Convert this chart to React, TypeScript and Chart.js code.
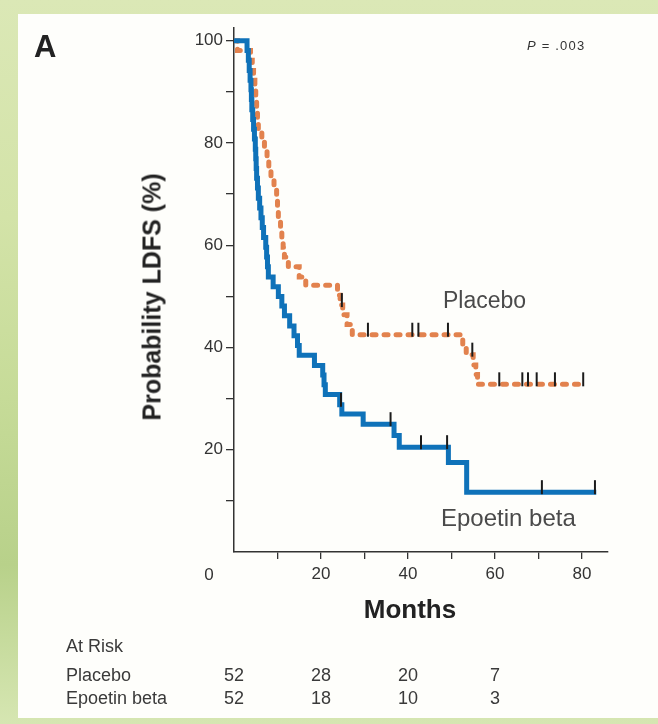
import React, { useEffect, useRef, useState } from "react";
import { Chart, registerables } from "chart.js";

Chart.register(...registerables);

// ---------------- data ----------------
const epoetinMonths = [
  0, 3.0, 3.3, 3.5, 3.7, 3.9, 4.0, 4.1, 4.3, 4.5, 4.7, 4.9, 5.0, 5.1, 5.2, 5.4, 5.6, 5.9, 6.2, 6.5,
  6.8, 7.3, 7.5, 7.7, 7.9, 9.0, 10.2, 11.0, 11.6, 12.8, 13.8, 14.6, 15.0, 18.5, 20.4, 20.7, 21.0,
  24.3, 24.8, 29.7, 36.8, 38.0, 49.3, 53.5, 83.3,
];
const epoetinLDFS = [
  100, 98.1, 96.2, 94.2, 92.3, 90.4, 88.5, 86.5, 84.6, 82.7, 80.8, 78.8, 76.9, 75.0, 73.1, 71.2,
  69.2, 67.3, 65.4, 63.5, 61.5, 59.6, 57.7, 55.8, 53.8, 51.9, 50.0, 48.1, 46.2, 44.2, 42.3, 40.4,
  38.5, 36.5, 34.6, 32.7, 30.8, 28.8, 27.0, 25.0, 22.8, 20.5, 17.5, 11.7, 11.7,
];
const placeboMonths = [
  0, 0.8, 3.8, 4.2, 4.5, 4.8, 5.0, 5.2, 5.4, 5.6, 6.4, 7.0, 7.6, 8.0, 8.5, 9.2, 9.8, 10.0, 10.2,
  10.7, 11.0, 11.3, 11.6, 12.5, 15.0, 16.5, 23.8, 24.4, 25.0, 26.0, 27.2, 52.6, 53.4, 55.0, 55.6,
  56.0, 80.8,
];
const placeboLDFS = [
  100, 98.1, 96.2, 94.2, 92.3, 90.4, 88.5, 86.5, 84.6, 82.7, 80.8, 78.8, 76.9, 75.0, 73.1, 71.2,
  69.2, 67.3, 65.4, 63.5, 61.5, 59.6, 57.7, 55.8, 53.8, 52.2, 50.2, 48.3, 46.4, 44.5, 42.5, 40.6,
  38.6, 36.6, 34.7, 32.8, 32.8,
];
const epoetinCensored = [24.6, 36.0, 43.0, 49.0, 70.8, 83.0];
const placeboCensored = [24.8, 30.8, 41.0, 42.4, 49.2, 54.8, 61.0, 66.3, 67.6, 69.6, 73.8, 80.3];

const yTickValues = [10, 20, 30, 40, 50, 60, 70, 80, 90, 100];
const yTickLabels = [20, 40, 60, 80, 100];
const xTickValues = [10, 20, 30, 40, 50, 60, 70, 80];
const xTickLabels = [20, 40, 60, 80];

const atRiskMonths = [0, 20, 40, 60];
const atRiskPlacebo = [52, 28, 20, 7];
const atRiskEpoetin = [52, 18, 10, 3];

// ---------------- style ----------------
const FONT = '"Liberation Sans", Arial, Helvetica, sans-serif';
const BLUE = "#0f72b9";
const ORANGE = "#e2824e";
const AXIS = "#333333";
const W = 658;
const H = 724;

function survivalAt(months: number[], values: number[], t: number) {
  let v = values[0];
  for (let i = 0; i < months.length; i++) if (months[i] <= t) v = values[i];
  return v;
}

const censorPlugin = {
  id: "censorMarks",
  afterDatasetsDraw(chart: any) {
    const { ctx } = chart;
    const x = chart.scales.x;
    const y = chart.scales.y;
    ctx.save();
    ctx.strokeStyle = "#1b1b1b";
    ctx.lineWidth = 2;
    const draw = (times: number[], months: number[], values: number[]) =>
      times.forEach((t) => {
        const px = x.getPixelForValue(t);
        const py = y.getPixelForValue(survivalAt(months, values, t));
        ctx.beginPath();
        ctx.moveTo(px, py + 2);
        ctx.lineTo(px, py - 12);
        ctx.stroke();
      });
    draw(placeboCensored, placeboMonths, placeboLDFS);
    draw(epoetinCensored, epoetinMonths, epoetinLDFS);
    ctx.restore();
  },
};

function Txt(props: {
  x: number;
  y: number;
  children: React.ReactNode;
  center?: boolean;
  style?: React.CSSProperties;
}) {
  return (
    <div
      style={{
        position: "absolute",
        left: props.x,
        top: props.y,
        transform: props.center ? "translate(-50%,-50%)" : "translate(0,-50%)",
        whiteSpace: "nowrap",
        lineHeight: 1,
        fontFamily: FONT,
        color: "#333",
        ...props.style,
      }}
    >
      {props.children}
    </div>
  );
}

export default function App() {
  const canvasRef = useRef<HTMLCanvasElement>(null);
  const [riskX, setRiskX] = useState<number[]>([]);

  useEffect(() => {
    const canvas = canvasRef.current!;
    const chart = new Chart(canvas, {
      type: "line",
      data: {
        datasets: [
          {
            label: "Epoetin beta",
            data: epoetinMonths.map((m, i) => ({ x: m, y: epoetinLDFS[i] })),
            stepped: "before",
            borderColor: BLUE,
            borderWidth: 5,
            pointRadius: 0,
            fill: false,
            order: 0,
            borderJoinStyle: "miter",
            borderCapStyle: "butt",
          },
          {
            label: "Placebo",
            data: placeboMonths.map((m, i) => ({ x: m, y: placeboLDFS[i] })),
            stepped: "before",
            borderColor: ORANGE,
            borderWidth: 5,
            borderDash: [4, 8],
            borderCapStyle: "round",
            pointRadius: 0,
            fill: false,
            order: 1,
          },
        ],
      },
      options: {
        animation: false,
        responsive: false,
        maintainAspectRatio: false,
        layout: { padding: { left: 0, top: 28, right: 50, bottom: 0 } },
        plugins: { legend: { display: false }, tooltip: { enabled: false } },
        elements: { point: { radius: 0 } },
        scales: {
          x: {
            type: "linear",
            min: 0,
            max: 86,
            afterBuildTicks: (s: any) => {
              s.ticks = xTickValues.map((v) => ({ value: v }));
            },
            afterFit: (s: any) => {
              s.height = H - 552;
            },
            ticks: {
              autoSkip: false,
              maxRotation: 0,
              padding: 5,
              color: AXIS,
              font: { family: FONT, size: 17 },
              callback: (v: any) => (xTickLabels.includes(Number(v)) ? String(v) : ""),
            },
            grid: { drawOnChartArea: false, tickLength: 7, color: AXIS, lineWidth: 1.3 },
            border: { display: true, color: AXIS, width: 1.5 },
          },
          y: {
            type: "linear",
            min: 0,
            max: 102.5,
            afterBuildTicks: (s: any) => {
              s.ticks = yTickValues.map((v) => ({ value: v }));
            },
            afterFit: (s: any) => {
              s.width = 234;
            },
            ticks: {
              autoSkip: false,
              padding: 3,
              color: AXIS,
              font: { family: FONT, size: 17 },
              callback: (v: any) => (yTickLabels.includes(Number(v)) ? String(v) : ""),
            },
            grid: { drawOnChartArea: false, tickLength: 8, color: AXIS, lineWidth: 1.3 },
            border: { display: true, color: AXIS, width: 1.5 },
          },
        },
      },
      plugins: [censorPlugin],
    } as any);
    setRiskX(atRiskMonths.map((m) => chart.scales.x.getPixelForValue(m)));
    return () => chart.destroy();
  }, []);

  return (
    <div
      style={{
        position: "absolute",
        left: 0,
        top: 0,
        width: W,
        height: H,
        overflow: "hidden",
        background:
          "linear-gradient(180deg, #dbe8b6 0%, #d3e3a8 30%, #c6db98 55%, #b8d18a 78%, #d6e6b2 100%)",
      }}
    >
      <div
        style={{
          position: "absolute",
          left: 18,
          top: 14,
          width: W - 18,
          height: 704,
          background: "#fefefb",
        }}
      />
      <canvas
        ref={canvasRef}
        width={W}
        height={H}
        style={{ position: "absolute", left: 0, top: 0, width: W, height: H }}
      />
      <Txt x={34} y={46} style={{ fontWeight: "bold", fontSize: 31, color: "#222" }}>
        A
      </Txt>
      <Txt x={527} y={45} style={{ fontSize: 13, letterSpacing: 1.2, color: "#333" }}>
        <i>P</i> = .003
      </Txt>
      <Txt x={443} y={300} style={{ fontSize: 23, color: "#4a4a4a" }}>
        Placebo
      </Txt>
      <Txt x={441} y={518} style={{ fontSize: 24, color: "#4a4a4a" }}>
        Epoetin beta
      </Txt>
      <Txt x={209} y={574} center style={{ fontSize: 17, color: AXIS }}>
        0
      </Txt>
      <Txt x={410} y={609} center style={{ fontSize: 26, fontWeight: "bold", color: "#222" }}>
        Months
      </Txt>
      <div
        style={{
          position: "absolute",
          left: 152,
          top: 297,
          transform: "translate(-50%,-50%) rotate(-90deg)",
          whiteSpace: "nowrap",
          lineHeight: 1,
          fontFamily: FONT,
          fontWeight: "bold",
          fontSize: 25,
          color: "#222",
        }}
      >
        Probability LDFS (%)
      </div>
      <Txt x={66} y={646} style={{ fontSize: 18, color: "#3a3a3a" }}>
        At Risk
      </Txt>
      <Txt x={66} y={675} style={{ fontSize: 18, color: "#3a3a3a" }}>
        Placebo
      </Txt>
      <Txt x={66} y={698} style={{ fontSize: 18, color: "#3a3a3a" }}>
        Epoetin beta
      </Txt>
      {riskX.map((px, i) => (
        <React.Fragment key={i}>
          <Txt x={px} y={675} center style={{ fontSize: 18, color: "#3a3a3a" }}>
            {atRiskPlacebo[i]}
          </Txt>
          <Txt x={px} y={698} center style={{ fontSize: 18, color: "#3a3a3a" }}>
            {atRiskEpoetin[i]}
          </Txt>
        </React.Fragment>
      ))}
    </div>
  );
}
